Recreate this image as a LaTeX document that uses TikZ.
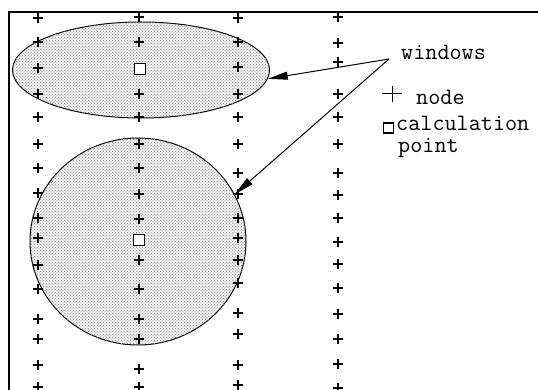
\documentclass[tikz,border=0pt]{standalone}
\usetikzlibrary{shapes.geometric,arrows.meta,patterns}
\begin{document}
\begin{tikzpicture}[x=1pt,y=-1pt,
  winshape/.style={ellipse,draw,line width=1pt,inner sep=0pt,fill=gray!12,
    postaction={pattern=crosshatch dots,pattern color=gray!90}},
  calcpt/.style={draw,line width=1.2pt,fill=white,minimum width=11pt,minimum height=11pt,inner sep=0pt},
  lbl/.style={font=\ttfamily\fontsize{23.5}{26}\selectfont,anchor=base west,inner sep=0pt},
  pointer/.style={line width=1pt,-{Triangle[length=20pt,width=8pt]}},
  frameline/.style={line width=2.5pt}]
\useasboundingbox (0,0) rectangle (538,390);
% frame
\draw[frameline] (538,12) -- (9,12) -- (9,392);
% windows
\node[winshape,minimum width=257pt,minimum height=96pt] (win1) at (141,70) {};
\node[winshape,minimum width=216pt,minimum height=207pt] (win2) at (138,241.5) {};
% grid nodes
\foreach \x/\ys in {38/{18,42,68,94,117,144,168,193,218,238,265,289,319,339,365,387},
                    139/{17,42,94,117,144,168,194,219,260,289,319,339,369,387},
                    238/{18,42,67,94,117,144,173,194,218,238,260,283,313,334,365,385},
                    338/{17,43,62,94,117,144,173,195,218,242,264,288,314,339,364,388}}{
  \foreach \y in \ys {
    \draw[line width=1.3pt] (\x-5,\y) -- (\x+5,\y) (\x,\y-5) -- (\x,\y+5);
  }
}
% calculation points
\node[calcpt] (c1) at (140,69) {};
\node[calcpt] (c2) at (139,240) {};
% legend
\node[lbl] (wl) at (401,60) {windows};
\coordinate (src) at (389,59);
\draw[pointer] (src) -- (win1.-4);
\draw[pointer] (src) -- (win2.26);
\draw[line width=1pt] (382,94) -- (402,94) (392,86) -- (392,102);
\node[lbl] (nl) at (416,105) {node};
\node[draw,line width=1.2pt,minimum width=10pt,minimum height=10pt,inner sep=0pt] (lsq) at (388.5,128) {};
\node[lbl] (cl) at (396,131) {calculation};
\node[lbl] (pl) at (398,153) {point};
\end{tikzpicture}
\end{document}
